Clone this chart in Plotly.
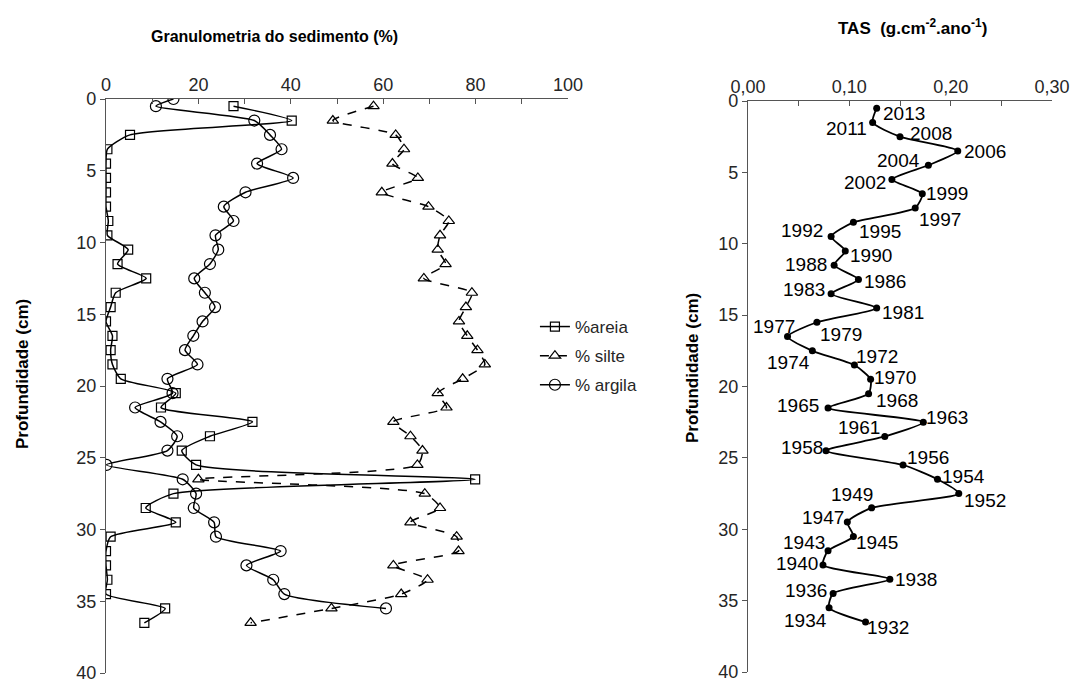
import plotly.graph_objects as go

# ---------------- data ----------------
depth = [0.5, 1.5, 2.5, 3.5, 4.5, 5.5, 6.5, 7.5, 8.5, 9.5, 10.5, 11.5, 12.5,
         13.5, 14.5, 15.5, 16.5, 17.5, 18.5, 19.5, 20.5, 21.5, 22.5, 23.5,
         24.5, 25.5, 26.5, 27.5, 28.5, 29.5, 30.5, 31.5, 32.5, 33.5, 34.5,
         35.5, 36.5]

areia = [27.6, 40.2, 5.2, 0.3, 0.0, 0.0, 0.0, 0.0, 0.5, 0.3, 4.8, 2.5, 8.7,
         2.1, 1.0, 0.0, 1.4, 1.0, 1.4, 3.2, 15.1, 11.9, 31.7, 22.5, 16.4,
         19.5, 79.9, 14.6, 8.6, 15.1, 1.0, 0.0, 0.0, 0.3, 0.0, 12.8, 8.3]

silte = [57.9, 49.1, 62.7, 64.5, 62.0, 67.5, 59.7, 69.8, 74.2, 72.3, 71.8,
         73.5, 68.8, 79.2, 77.9, 76.4, 78.2, 80.4, 82.0, 77.2, 71.8, 73.7,
         62.2, 65.9, 68.5, 67.4, 20.0, 69.0, 72.3, 65.9, 75.9, 76.3, 62.2,
         69.6, 63.9, 48.8, 31.3]

depth_argila = [0.0, 0.5, 1.5, 2.5, 3.5, 4.5, 5.5, 6.5, 7.5, 8.5, 9.5, 10.5,
                11.5, 12.5, 13.5, 14.5, 15.5, 16.5, 17.5, 18.5, 19.5, 20.5,
                21.5, 22.5, 23.5, 24.5, 25.5, 26.5, 27.5, 28.5, 29.5, 30.5,
                31.5, 32.5, 33.5, 34.5, 35.5]
argila = [14.6, 10.8, 32.1, 35.5, 38.0, 32.7, 40.5, 30.2, 25.5, 27.6, 23.7,
          24.3, 22.5, 19.1, 21.4, 23.6, 20.9, 18.9, 17.1, 19.8, 13.3, 14.4,
          6.3, 11.8, 15.4, 13.3, 0.1, 16.6, 19.5, 19.0, 23.4, 23.8, 37.8,
          30.4, 36.2, 38.6, 60.6]

tas_depth = depth
tas = [0.127, 0.123, 0.150, 0.207, 0.178, 0.142, 0.172, 0.165, 0.104, 0.082,
       0.096, 0.085, 0.109, 0.082, 0.127, 0.068, 0.039, 0.0635, 0.105, 0.121,
       0.119, 0.079, 0.173, 0.135, 0.077, 0.153, 0.187, 0.208, 0.122, 0.098,
       0.104, 0.079, 0.074, 0.140, 0.084, 0.080, 0.116]
years = ["2013", "2011", "2008", "2006", "2004", "2002", "1999", "1997", "1995",
         "1992", "1990", "1988", "1986", "1983", "1981", "1979", "1977", "1974",
         "1972", "1970", "1968", "1965", "1963", "1961", "1958", "1956", "1954",
         "1952", "1949", "1947", "1945", "1943", "1940", "1938", "1936", "1934",
         "1932"]

left_ticks = [0, 20, 40, 60, 80, 100]
right_ticks = [0.0, 0.1, 0.2, 0.3]
depth_ticks = [0, 5, 10, 15, 20, 25, 30, 35, 40]

# label offsets in pixels from each point (style only): +dx right, +dy down
label_dx = [27, -26, 31, 27, -30, -27, 25, 25, 27, -29, 26, -28, 27, -27, 26,
            24, -14, -24, 23, 24, 28, -30, 24, -26, -24, 25, 26, 26, -20, -24,
            24, -24, -26, 26, -27, -24, 22]
label_dy = [4, 5, -4, 0, -6, 2, -1, 10, 8, -7, 4, -2, 1, -5, 4, 11, -11, 11,
            -10, -3, 6, -3, -6, -10, -4, -9, -4, 6, -14, -6, 5, -9, -2, -1, -4,
            12, 4]

FONT = "Liberation Sans, Arial, sans-serif"
AX = "#555555"
TXT = "#262626"

fig = go.Figure()

fig.add_trace(go.Scatter(
    x=areia, y=depth, name="%areia", mode="lines+markers",
    line=dict(color="black", width=1.5, shape="spline", smoothing=0.6),
    marker=dict(symbol="square-open", size=9, color="black", line=dict(width=1.2)),
    xaxis="x", yaxis="y", legendgroup="a"))
fig.add_trace(go.Scatter(
    x=silte, y=depth, name="% silte", mode="lines+markers",
    line=dict(color="black", width=1.5, dash="dash", shape="spline", smoothing=0.6),
    marker=dict(symbol="triangle-up-open", size=10, color="black", line=dict(width=1.2)),
    xaxis="x", yaxis="y", legendgroup="b"))
fig.add_trace(go.Scatter(
    x=argila, y=depth_argila, name="% argila", mode="lines+markers",
    line=dict(color="black", width=1.5, shape="spline", smoothing=0.6),
    marker=dict(symbol="circle-open", size=11, color="black", line=dict(width=1.2)),
    xaxis="x", yaxis="y", legendgroup="c"))

fig.add_trace(go.Scatter(
    x=tas, y=tas_depth, mode="lines+markers",
    line=dict(color="black", width=1.8, shape="spline", smoothing=0.6),
    marker=dict(symbol="circle", size=7, color="black"),
    xaxis="x2", yaxis="y2", showlegend=False, cliponaxis=False))

year_labels = [
    dict(x=xv, y=yv, text=t, xref="x2", yref="y2", showarrow=False,
         xanchor="center", yanchor="middle", xshift=dx, yshift=-(dy + 1),
         font=dict(family=FONT, size=19, color="black"))
    for xv, yv, t, dx, dy in zip(tas, tas_depth, years, label_dx, label_dy)
]

common_x = dict(side="top", showline=True, linecolor=AX, linewidth=1.2,
                ticks="inside", ticklen=5, tickcolor=AX, showgrid=False,
                zeroline=False, automargin=False, ticklabeloverflow="allow",
                tickfont=dict(family=FONT, size=18, color=TXT))
common_y = dict(showline=True, linecolor=AX, linewidth=1.2, ticks="outside",
                ticklen=5, tickcolor=AX, showgrid=False, zeroline=False,
                range=[40, 0], tickvals=depth_ticks, automargin=False,
                ticklabeloverflow="allow",
                tickfont=dict(family=FONT, size=18, color=TXT))

fig.update_layout(
    width=1072, height=679, margin=dict(l=0, r=0, t=0, b=0),
    paper_bgcolor="white", plot_bgcolor="white", separators=",.",
    font=dict(family=FONT, color=TXT),
    xaxis=dict(common_x, domain=[106 / 1072, 568 / 1072], range=[0, 100],
               tickvals=left_ticks, anchor="y",
               minor=dict(dtick=10, ticks="inside", ticklen=5, tickcolor=AX)),
    yaxis=dict(common_y, domain=[1 - 673 / 679, 1 - 99 / 679], anchor="x"),
    xaxis2=dict(common_x, domain=[748 / 1072, 1052 / 1072], range=[0, 0.3],
                tickvals=right_ticks, tickformat=".2f", anchor="y2",
                minor=dict(dtick=0.05, ticks="inside", ticklen=5, tickcolor=AX)),
    yaxis2=dict(common_y, domain=[1 - 672 / 679, 1 - 101 / 679], anchor="x2"),
    legend=dict(x=0.499, y=1 - 309 / 679, xanchor="left", yanchor="top",
                font=dict(family=FONT, size=17, color=TXT),
                traceorder="grouped", tracegroupgap=4,
                bgcolor="rgba(0,0,0,0)"),
    annotations=[
        dict(text="<b>Granulometria do sedimento (%)</b>", x=274 / 1072,
             y=1 - 36 / 679, xref="paper", yref="paper", showarrow=False,
             xanchor="center", yanchor="middle",
             font=dict(family=FONT, size=16, color="black")),
        dict(text="<b>TAS  (g.cm<sup>-2</sup>.ano<sup>-1</sup>)</b>",
             x=912 / 1072, y=1 - 27 / 679, xref="paper", yref="paper",
             showarrow=False, xanchor="center", yanchor="middle",
             font=dict(family=FONT, size=17, color="black")),
        dict(text="<b>Profundidade (cm)</b>", x=22 / 1072, y=1 - 374 / 679,
             xref="paper", yref="paper", showarrow=False, textangle=-90,
             xanchor="center", yanchor="middle",
             font=dict(family=FONT, size=17, color="black")),
        dict(text="<b>Profundidade (cm)</b>", x=692 / 1072, y=1 - 368 / 679,
             xref="paper", yref="paper", showarrow=False, textangle=-90,
             xanchor="center", yanchor="middle",
             font=dict(family=FONT, size=17, color="black")),
    ] + year_labels,
)

fig.write_html("out.html")
